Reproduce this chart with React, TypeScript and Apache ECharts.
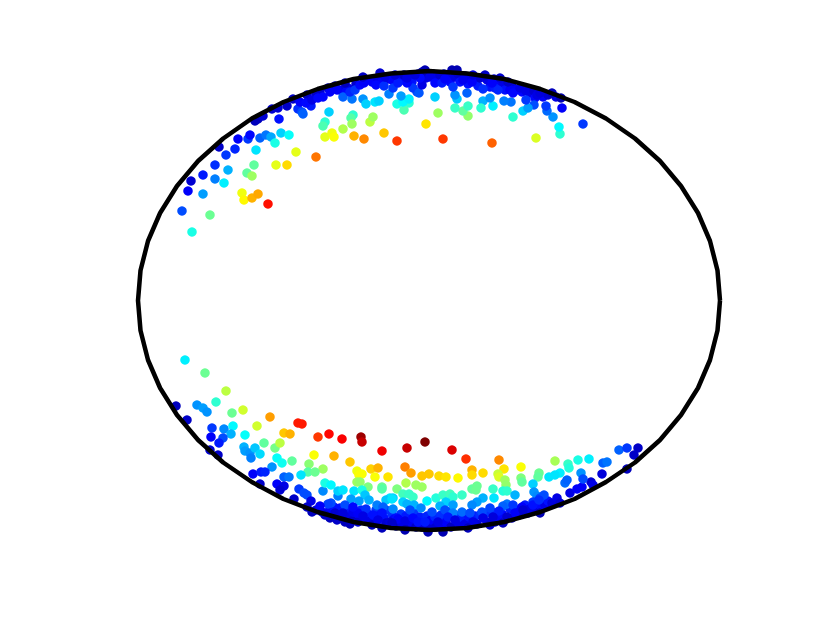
import React, { useEffect, useRef } from "react";
import * as echarts from "echarts";

const jetColors = ["#00007f", "#0000ff", "#007fff", "#00ffff", "#7fff7f", "#ffff00", "#ff7f00", "#ff0000", "#7f0000"];

const outline: number[][] = [
  [720, 300.5], [717.5, 270.5], [710, 241], [698, 213], [681, 186], [660, 161], [635, 138.5], [606, 118.5], [574.5, 102], [540.4, 89], [504.3, 79], [467, 73.5], [429, 71],
  [391, 73.5], [353.7, 79], [317.6, 89], [283.5, 102], [251.8, 118.5], [223.2, 138.5], [198.1, 161], [177, 186], [160.1, 213], [148, 241], [140.5, 270.5], [138, 300.5],
  [140.5, 330.5], [148, 360], [160.1, 388], [177, 415], [198.1, 440], [223.2, 462.5], [251.8, 482], [283.5, 499], [317.6, 512], [353.7, 522], [391, 528], [429, 530],
  [467, 528], [504.3, 522], [540.4, 512], [574.5, 499], [606, 482], [635, 462.5], [660, 440], [681, 415], [698, 388], [710, 360], [717.5, 330.5], [720, 300.5],
];

const upperBandPoints: number[][] = [
  [348,88,.1],[356,84,.08],[366,80,.08],[372,82,.12],[378,80,.1],[382,82,.12],[388,79,.1],[392,80,.12],[398,77,.1],[402,80,.12],[404,75,.07],[410,78,.11],[412,82,.14],[418,74,.08],[422,72,.06],[426,78,.1],[428,74,.07],
  [433,74,.08],[436,78,.1],[440,75,.08],[444,74,.08],[448,78,.1],[450,82,.13],[455,77,.1],[458,74,.08],[460,82,.14],[465,76,.08],[468,84,.14],[470,78,.1],[476,80,.1],[478,86,.15],[480,78,.08],[490,87,.14],[494,79,.09],
  [497,84,.12],[503,85,.1],[505,90,.14],[512,86,.09],[516,90,.12],[522,92,.13],[526,91,.1],[530,93,.1],[534,91,.08],[535,98,.13],[543,97,.12],[548,95,.08],[556,97,.1],[320,92,.08],[328,88,.08],[335,86,.07],[340,90,.1],[346,92,.13],[316,94,.07],
];

const lowerBandPoints: number[][] = [
  [316,510,.08],[322,512,.1],[328,512,.12],[330,518,.06],[334,507,.14],[340,508,.14],[342,518,.1],[348,510,.15],[349,517,.1],[350,524,.05],[356,517,.12],[358,522,.08],[361,510,.16],[366,518,.12],[368,514,.15],[370,521,.1],
  [372,525,.06],[376,510,.18],[378,516,.13],[384,518,.14],[386,510,.18],[386,523,.08],[392,514,.17],[394,519,.13],[396,526,.06],[401,514,.18],[402,524,.1],[406,516,.15],[408,526,.07],[411,522,.11],[414,513,.18],[416,527,.07],
  [420,517,.15],[422,527,.08],[427,516,.16],[430,526,.08],[431,520,.12],[435,517,.16],[436,527,.08],[441,515,.17],[442,525,.1],[446,522,.12],[450,512,.2],[451,527,.07],[458,516,.17],[459,524,.1],[463,518,.15],[465,524,.1],
  [469,517,.14],[475,516,.15],[477,524,.09],[480,515,.17],[486,513,.18],[487,522,.09],[492,512,.17],[495,522,.08],[498,517,.12],[502,514,.13],[510,509,.15],[512,518,.07],[517,510,.12],[519,515,.08],[525,505,.15],[528,513,.08],
  [531,508,.12],[535,510,.09],[540,505,.13],[545,505,.1],[548,501,.14],[552,503,.09],
];

const upperLeftPoints: number[][] = [
  [192,232,.40],[210,215,.48],[182,211,.2],[203,194,.28],[188,191,.12],[191,181,.08],[203,175,.15],[215,179,.25],[224,183,.36],[215,165,.17],[228,170,.3],[247,173,.47],[252,176,.53],[254,165,.47],
  [226,155,.18],[219,147,.07],[235,149,.16],[256,150,.35],[238,139,.12],[248,139,.18],[250,135,.13],[260,138,.22],[266,135,.24],[271,137,.29],[275,143,.40],[281,133,.33],[289,135,.38],[279,119,.14],
  [255,121,.06],[258,119,.06],[263,116,.08],[272,109,.08],[278,108,.08],[287,106,.07],[293,99,.07],[298,109,.17],[302,112,.2],[303,114,.22],[311,106,.15],[300,102,.12],[307,95,.07],[306,103,.13],
  [312,100,.1],[318,98,.13],[323,97,.13],[330,92,.12],[337,90,.12],[345,83,.06],[329,112,.33],[343,97,.22],[352,99,.24],[350,92,.16],[355,90,.18],[360,85,.13],[364,83,.12],[363,77,.07],[363,99,.27],[366,104,.33],
  [353,115,.42],[351,118,.46],[325,122,.42],[323,126,.45],[343,129,.55],[352,124,.53],[370,122,.56],[325,137,.6],[332,133,.61],[334,137,.62],[354,136,.7],[364,139,.74],[296,152,.6],[316,157,.76],
  [276,165,.6],[287,165,.66],[242,193,.61],[244,200,.63],[252,198,.7],[258,194,.71],[268,204,.86],
];

const upperRightPoints: number[][] = [
  [375,102,.35],[379,101,.33],[373,117,.53],[384,133,.68],[397,141,.82],[426,124,.65],[438,113,.53],[443,139,.82],[492,143,.78],[536,138,.59],[560,134,.42],[559,127,.37],[583,124,.18],[553,117,.27],
  [562,108,.12],[547,111,.23],[546,106,.18],[534,105,.2],[523,111,.33],[528,108,.28],[513,117,.42],[526,100,.18],[511,102,.24],[504,101,.25],[493,106,.36],[483,101,.3],[490,98,.27],[481,108,.42],
  [468,116,.52],[463,111,.47],[468,106,.43],[455,108,.43],[457,99,.32],[455,95,.27],[467,93,.22],[435,97,.33],[409,103,.42],[404,110,.45],[397,104,.4],[403,102,.37],[409,99,.36],[401,96,.28],[389,94,.25],
  [417,92,.2],[413,88,.18],[419,93,.21],[407,83,.13],[376,85,.13],[384,86,.17],[385,77,.1],[393,88,.18],[398,83,.15],[395,75,.09],[407,78,.1],[422,85,.1],[420,78,.13],[415,75,.09],[425,70,.05],[430,77,.1],
  [435,83,.13],[442,83,.15],[445,79,.12],[453,87,.18],[457,70,.05],[452,70,.05],[463,80,.11],[472,82,.12],[473,75,.09],[483,89,.17],[487,80,.1],[485,75,.07],[495,88,.15],[498,90,.16],[500,78,.08],[492,83,.12],
  [510,90,.12],[513,93,.13],[520,88,.1],[508,82,.07],[537,95,.1],[540,93,.09],[552,93,.06],[561,98,.05],[380,73,.08],
];

const lowerLeftPoints: number[][] = [
  [185,360,.36],[205,373,.48],[226,391,.56],[216,402,.42],[197,405,.27],[203,408,.28],[207,412,.27],[176,406,.06],[187,420,.07],[232,413,.48],[243,410,.58],[270,417,.72],[257,426,.58],[298,423,.85],[302,424,.85],
  [212,428,.18],[224,429,.26],[233,426,.37],[231,434,.3],[223,438,.2],[219,443,.15],[211,437,.12],[210,450,.08],[218,455,.07],[245,435,.38],[244,447,.3],[245,451,.28],[250,453,.27],[251,458,.25],[255,448,.32],
  [260,454,.34],[264,443,.47],[275,448,.49],[280,443,.56],[284,433,.68],[290,434,.7],[318,437,.82],[329,434,.87],[342,439,.88],[361,437,.97],[362,442,.93],[382,451,.89],[277,458,.38],[282,463,.39],[292,461,.47],
  [272,467,.27],[314,455,.62],[334,456,.7],[309,464,.51],[323,469,.53],[308,472,.46],[315,472,.48],[301,475,.35],[350,462,.68],[357,471,.61],[359,475,.62],[362,474,.62],[371,469,.67],[378,468,.7],[375,477,.62],[388,477,.65],
  [357,482,.53],[360,482,.52],[368,487,.5],[382,487,.48],[382,489,.46],[253,474,.12],[261,472,.15],[265,472,.16],[284,477,.22],[289,477,.24],[260,484,.07],[277,484,.12],[284,486,.1],[280,490,.08],[294,499,.07],
  [299,489,.18],[304,493,.2],[307,495,.2],[311,501,.1],[323,491,.26],[325,483,.4],[331,485,.37],[338,496,.25],[338,491,.33],[343,490,.35],[354,491,.35],[362,490,.4],[365,495,.32],[351,499,.28],[359,501,.28],[369,500,.3],
  [345,505,.2],[377,505,.25],[390,498,.35],[393,498,.33],[386,500,.32],[383,507,.22],[331,503,.2],[328,504,.19],[320,506,.12],[307,507,.07],[312,512,.06],[325,515,.07],[335,513,.08],[343,513,.09],[337,520,.07],
  [345,522,.06],[352,521,.07],[353,512,.11],[358,513,.12],[353,507,.13],[366,509,.17],[373,515,.14],[363,516,.1],[382,513,.14],[378,520,.1],[390,522,.09],[382,528,.06],[397,518,.14],
];

const lowerRightPoints: number[][] = [
  [425,442,1],[407,448,.93],[452,450,.91],[466,459,.83],[499,460,.74],[405,467,.75],[411,473,.72],[422,476,.68],[429,474,.68],[439,476,.66],[446,477,.65],[458,478,.63],[472,470,.7],[472,475,.66],[483,473,.66],
  [504,469,.65],[521,467,.62],[498,474,.57],[499,477,.59],[505,480,.53],[506,485,.52],[521,478,.5],[522,482,.47],[539,473,.48],[538,477,.47],[555,461,.54],[568,464,.43],[569,468,.41],[578,460,.4],[589,459,.36],
  [560,473,.36],[555,475,.35],[549,477,.35],[533,484,.33],[534,492,.27],[537,496,.26],[544,495,.2],[540,498,.2],[533,502,.18],[406,483,.55],[416,485,.53],[422,487,.53],[397,489,.5],[403,494,.44],[409,494,.43],[413,497,.43],
  [392,499,.35],[403,502,.33],[407,504,.3],[414,505,.3],[427,501,.37],[436,498,.41],[443,495,.43],[450,494,.44],[453,497,.42],[462,495,.43],[472,489,.47],[477,486,.48],[476,490,.48],[493,489,.43],[503,491,.41],[507,491,.42],
  [494,498,.35],[515,495,.3],[483,498,.3],[477,502,.28],[472,505,.26],[446,502,.33],[440,506,.3],[453,505,.28],[445,510,.2],[453,513,.25],[432,512,.2],[421,508,.26],[393,509,.26],[410,510,.2],[462,512,.23],[470,513,.2],
  [507,504,.24],[503,506,.22],[513,505,.18],[490,508,.19],[482,512,.2],[499,511,.15],[522,507,.12],[527,510,.1],[515,513,.12],[533,505,.14],[539,500,.17],[557,498,.1],[560,503,.08],[570,493,.1],[577,489,.12],[582,487,.12],
  [591,482,.08],[593,485,.1],[565,483,.23],[567,480,.22],[581,473,.27],[583,479,.2],[602,474,.09],[603,463,.22],[607,462,.24],[619,450,.22],[627,448,.18],[638,448,.07],[634,455,.07],[627,469,.06],
  [398,519,.12],[405,521,.1],[413,518,.13],[418,522,.14],[425,522,.15],[438,522,.1],[448,517,.15],[455,520,.1],[473,522,.1],[483,518,.1],[493,517,.09],[507,517,.08],[523,510,.08],[540,513,.05],[503,523,.06],[490,525,.07],
  [468,528,.06],[443,532,.05],[428,532,.05],[405,530,.05],[392,523,.07],
];

export default function App() {
  const ref = useRef<HTMLDivElement>(null);
  useEffect(() => {
    const chart = echarts.init(ref.current!, undefined, { renderer: "svg" });
    chart.setOption({
      animation: false,
      backgroundColor: "#ffffff",
      grid: { left: 0, right: 0, top: 0, bottom: 0 },
      xAxis: { type: "value", min: 0, max: 830, show: false },
      yAxis: { type: "value", min: 0, max: 623, inverse: true, show: false },
      visualMap: { type: "continuous", show: false, min: 0, max: 1, dimension: 2, seriesIndex: 0, inRange: { color: jetColors } },
      series: [
        {
          type: "scatter",
          symbol: "circle",
          symbolSize: 9.5,
          data: [...upperBandPoints, ...lowerBandPoints, ...upperLeftPoints, ...upperRightPoints, ...lowerLeftPoints, ...lowerRightPoints],
          itemStyle: { opacity: 1 },
          z: 2,
        },
        {
          type: "line",
          data: outline,
          showSymbol: false,
          smooth: false,
          lineStyle: { color: "#000000", width: 4.5, join: "round" },
          z: 3,
        },
      ],
    });
    return () => chart.dispose();
  }, []);
  return <div ref={ref} style={{ position: "absolute", left: 0, top: 0, width: 830, height: 623 }} />;
}
